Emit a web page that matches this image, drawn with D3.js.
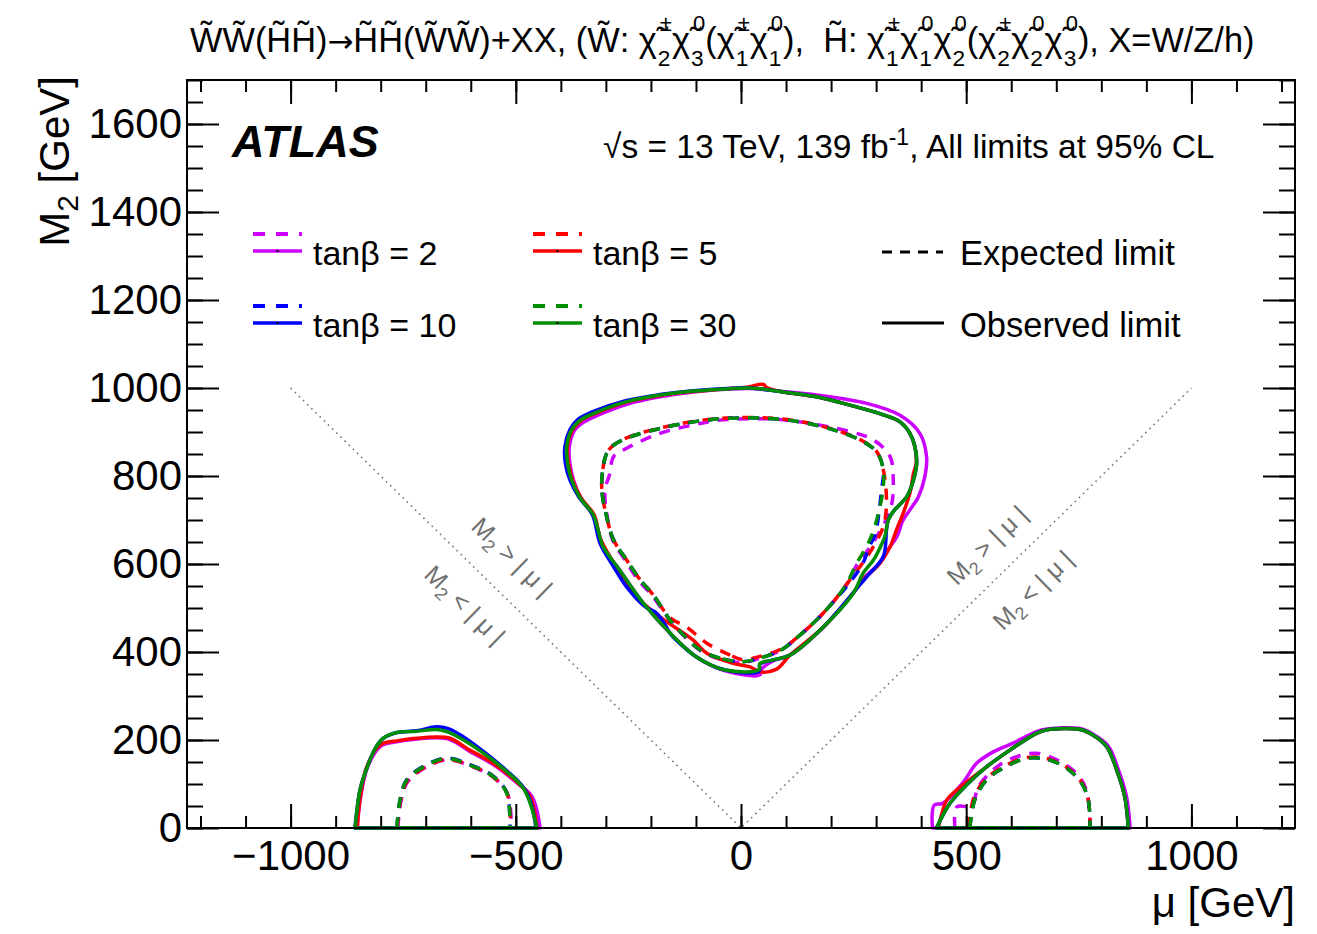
<!DOCTYPE html>
<html lang="en">
<head>
<meta charset="utf-8">
<title>ATLAS wino/higgsino limits</title>
<script src="https://d3js.org/d3.v7.min.js"></script>
<style>
  body { margin: 0; background: #fff; }
  svg text { font-family: "Liberation Sans", Arial, Helvetica, sans-serif; white-space: pre; }
</style>
</head>
<body>
<div id="wrapper"></div>
<script>
// ---- data (mu [GeV], M2 [GeV]) ----
const tanBetaValues = [2, 5, 10, 30]
const muDomain = [-1230, 1230]
const m2Domain = [0, 1700]
const xMajorTicks = [-1000, -500, 0, 500, 1000]
const xMinorTicks = d3.range(-1200, 1201, 100)
const yMajorTicks = [0, 200, 400, 600, 800, 1000, 1200, 1400, 1600]
const yMinorTicks = d3.range(0, 1701, 50)

// central island, observed
const obsCenterTb2 = [[-35,357],[-98,388],[-150,435],[-217,511],[-269,586],[-306,639],[-318,680],[-328,712],[-355,750],[-372,791],[-380,829],[-381,867],[-370,903],[-350,922],[-320,937],[-250,964],[-180,980],[-106,991],[-32,997],[20,999],[94,992],[168,984],[279,965],[353,938],[397,897],[412,844],[408,798],[394,753],[375,723],[360,700],[346,662],[330,638],[305,600],[270,565],[249,533],[183,457],[109,393],[72,380],[45,360],[42,348]]
const obsCenterTb5 = [[20,366],[-17,374],[-76,397],[-106,427],[-180,480],[-232,526],[-261,571],[-291,617],[-313,660],[-326,712],[-355,750],[-374,791],[-383,829],[-385,867],[-374,905],[-355,926],[-326,941],[-254,968],[-180,983],[-106,992],[-32,998],[13,1002],[50,1008],[57,1001],[94,991],[168,980],[242,961],[316,939],[353,923],[375,897],[386,867],[389,829],[383,806],[375,761],[360,715],[346,680],[331,639],[309,602],[271,564],[249,534],[183,457],[109,393],[79,361],[42,355]]
const obsCenterTb10 = [[-35,359],[-98,388],[-158,443],[-165,456],[-187,488],[-213,503],[-254,548],[-283,594],[-313,647],[-330,712],[-360,752],[-380,791],[-390,829],[-391,867],[-380,905],[-362,929],[-332,945],[-256,971],[-180,985],[-106,994],[-32,999],[20,1000],[94,991],[168,980],[242,961],[316,939],[353,923],[375,897],[386,867],[390,829],[383,791],[368,753],[338,719],[327,700],[323,677],[316,617],[279,571],[260,548],[183,457],[109,393],[72,382],[42,372],[40,356]]
const obsCenterTb30 = [[-35,359],[-98,388],[-150,435],[-217,511],[-269,586],[-306,639],[-318,680],[-328,712],[-357,750],[-376,791],[-385,829],[-387,867],[-376,905],[-357,927],[-328,942],[-254,969],[-180,984],[-106,993],[-32,998],[20,1000],[94,991],[168,980],[242,961],[316,939],[353,923],[375,897],[386,867],[390,829],[383,791],[368,753],[338,719],[327,700],[320,665],[310,640],[294,609],[271,579],[249,533],[183,457],[109,393],[72,382],[42,374],[40,360]]

// central island, expected
const expCenterTb2 = [[5,376],[-47,384],[-91,404],[-128,438],[-158,472],[-197,528],[-227,562],[-256,607],[-285,655],[-298,715],[-302,768],[-291,806],[-283,844],[-254,863],[-180,897],[-106,916],[-47,927],[57,930],[131,923],[242,901],[294,882],[331,844],[338,791],[335,738],[322,700],[300,660],[279,628],[257,598],[235,554],[205,514],[168,473],[127,435],[90,405],[42,386]]
const expCenterTb5 = [[5,382],[-24,393],[-76,420],[-121,457],[-158,478],[-195,530],[-224,564],[-254,609],[-283,655],[-300,715],[-309,768],[-307,814],[-298,852],[-283,870],[-246,890],[-180,909],[-106,924],[-32,932],[57,932],[131,924],[205,906],[264,883],[301,856],[316,814],[323,738],[316,685],[298,647],[272,605],[236,556],[205,514],[168,473],[127,435],[90,407],[42,390]]
const expCenterTb10 = [[5,378],[-47,386],[-91,405],[-128,439],[-158,473],[-195,530],[-224,564],[-254,609],[-283,655],[-300,715],[-309,768],[-307,814],[-298,852],[-283,870],[-246,889],[-180,908],[-106,923],[-32,931],[57,931],[131,923],[205,905],[264,882],[301,855],[316,814],[312,768],[306,715],[298,667],[285,640],[271,602],[240,556],[205,514],[168,473],[127,435],[90,405],[42,386]]
const expCenterTb30 = [[5,378],[-47,386],[-91,405],[-128,439],[-158,473],[-195,530],[-224,564],[-254,609],[-283,655],[-300,715],[-309,768],[-307,814],[-298,852],[-283,870],[-246,889],[-180,908],[-106,923],[-32,931],[57,931],[131,923],[205,905],[264,882],[301,855],[316,814],[315,768],[305,715],[292,670],[279,640],[257,602],[235,556],[205,514],[168,473],[127,435],[90,405],[42,386]]

// mu < 0 island (open arc, closed along M2 = 0)
const obsLeftTb2 = [[-852,0],[-846,60],[-829,139],[-799,187],[-764,196],[-720,202],[-676,205],[-646,201],[-602,174],[-550,144],[-498,103],[-464,71],[-446,0]]
const obsLeftTb5 = [[-852,0],[-846,64],[-831,139],[-801,189],[-764,198],[-720,204],[-676,207],[-646,204],[-602,177],[-550,147],[-498,105],[-468,71],[-453,0]]
const obsLeftTb10 = [[-857,0],[-846,86],[-835,124],[-812,181],[-794,204],[-764,217],[-720,221],[-676,230],[-650,226],[-616,207],[-572,174],[-520,130],[-483,92],[-466,56],[-455,0]]
const obsLeftTb30 = [[-857,0],[-846,86],[-835,124],[-812,181],[-794,204],[-764,217],[-720,220],[-676,224],[-653,219],[-616,200],[-572,170],[-520,128],[-483,90],[-468,56],[-453,0]]
const expLeftTb2 = [[-762,0],[-755,61],[-740,105],[-696,140],[-651,155],[-600,141],[-548,114],[-518,77],[-510,0]]
const expLeftTb5 = [[-763,0],[-756,62],[-741,107],[-697,141],[-652,156],[-601,142],[-549,115],[-519,78],[-512,0]]
const expLeftTb10 = [[-764,0],[-757,64],[-742,110],[-698,144],[-653,159],[-602,144],[-550,118],[-520,80],[-513,0]]
const expLeftTb30 = [[-764,0],[-757,64],[-742,109],[-698,143],[-653,158],[-602,143],[-550,117],[-520,79],[-513,0]]

// mu > 0 island
const obsRightTb2 = [[425,0],[429,52],[448,56],[492,102],[523,147],[560,173],[604,193],[656,219],[679,225],[753,226],[782,213],[815,187],[838,132],[856,71],[864,0]]
const obsRightTb5 = [[438,0],[442,18],[457,64],[479,86],[493,98],[545,139],[597,177],[656,215],[679,223],[753,224],[782,211],[812,185],[834,132],[852,71],[860,0]]
const obsRightTb10 = [[434,0],[464,56],[501,98],[545,139],[597,177],[656,215],[679,223],[753,224],[782,211],[812,185],[834,132],[852,71],[860,0]]
const obsRightTb30 = [[434,0],[464,56],[501,98],[545,139],[597,177],[656,215],[679,223],[753,224],[782,211],[812,185],[834,132],[852,71],[860,0]]
const expRightTb2 = [[475,0],[479,48],[512,50],[527,94],[568,139],[612,162],[656,170],[701,155],[745,124],[767,86],[775,0]]
const expRightTb5 = [[506,0],[516,66],[542,110],[580,138],[633,160],[679,158],[723,138],[756,104],[771,64],[775,0]]
const expRightTb10 = [[508,0],[519,64],[545,109],[582,136],[634,158],[679,156],[723,136],[756,102],[771,64],[775,0]]
const expRightTb30 = [[508,0],[519,64],[545,109],[582,136],[634,158],[679,156],[723,136],[756,102],[771,64],[775,0]]

const tbColors = ["#cc00ff", "#ff0000", "#0000ff", "#008f00"]

const series = [
    {obsC: obsCenterTb2, expC: expCenterTb2, obsL: obsLeftTb2, expL: expLeftTb2, obsR: obsRightTb2, expR: expRightTb2},
    {obsC: obsCenterTb5, expC: expCenterTb5, obsL: obsLeftTb5, expL: expLeftTb5, obsR: obsRightTb5, expR: expRightTb5},
    {obsC: obsCenterTb10, expC: expCenterTb10, obsL: obsLeftTb10, expL: expLeftTb10, obsR: obsRightTb10, expR: expRightTb10},
    {obsC: obsCenterTb30, expC: expCenterTb30, obsL: obsLeftTb30, expL: expLeftTb30, obsR: obsRightTb30, expR: expRightTb30},
]

// ---- chart ----
const width = 1317, height = 934
const frame = {left: 187, right: 1295, top: 80, bottom: 828}
const font = "\"Liberation Sans\", Arial, Helvetica, sans-serif"

const svg = d3.select("#wrapper").append("svg")
    .attr("width", width)
    .attr("height", height)
    .style("background", "#fff")

const x = d3.scaleLinear().domain(muDomain).range([frame.left, frame.right])
const y = d3.scaleLinear().domain(m2Domain).range([frame.bottom, frame.top])

// diagonal M2 = |mu| lines
const diag = svg.append("g")
diag.append("path")
    .attr("d", d3.line().x(d => x(d[0])).y(d => y(d[1]))([[-1000, 1000], [0, 0], [1000, 1000]]))
    .attr("fill", "none")
    .attr("stroke", "#777")
    .attr("stroke-width", 1.6)
    .attr("stroke-dasharray", "1.6,4.2")

const angle = Math.atan2(y(0) - y(1000), x(0) - x(-1000)) * 180 / Math.PI
const diagLabels = [
    {mu: -508, m2: 616, op: ">", rot: angle},
    {mu: -613, m2: 507, op: "<", rot: angle},
    {mu: 546, m2: 643, op: ">", rot: -angle},
    {mu: 648, m2: 541, op: "<", rot: -angle},
]
diagLabels.forEach(l => {
    const t = svg.append("text")
        .attr("transform", `translate(${x(l.mu)},${y(l.m2)}) rotate(${l.rot})`)
        .attr("text-anchor", "middle")
        .attr("dy", "0.35em")
        .attr("fill", "#707070")
        .style("font-size", "25px")
    t.append("tspan").text("M")
    t.append("tspan").attr("dy", 6).style("font-size", "18px").text("2")
    t.append("tspan").attr("dy", -6).text(` ${l.op} | μ |`)
})

// contours
const pathOf = d3.line().x(d => x(d[0])).y(d => y(d[1]))
const closedPath = pts => pathOf.curve(d3.curveCatmullRomClosed.alpha(0.5))(pts)
const islandPath = pts => pathOf.curve(d3.curveCatmullRom.alpha(0.5))(pts) + "Z"

const plot = svg.append("g").attr("fill", "none").attr("stroke-width", 3.5).attr("stroke-linejoin", "round")
series.forEach((s, i) => {
    const c = tbColors[i]
    const dashed = "11,9"
    plot.append("path").attr("d", closedPath(s.expC)).attr("stroke", c).attr("stroke-dasharray", dashed)
    plot.append("path").attr("d", islandPath(s.expL)).attr("stroke", c).attr("stroke-dasharray", dashed)
    plot.append("path").attr("d", islandPath(s.expR)).attr("stroke", c).attr("stroke-dasharray", dashed)
    plot.append("path").attr("d", closedPath(s.obsC)).attr("stroke", c)
    plot.append("path").attr("d", islandPath(s.obsL)).attr("stroke", c)
    plot.append("path").attr("d", islandPath(s.obsR)).attr("stroke", c)
})

// axes with inward ticks on all four sides
function styleAxis(g) {
    g.select(".domain").remove()
    g.selectAll("line").attr("stroke", "#000").attr("stroke-width", 2)
    g.selectAll("text").attr("fill", "#000").style("font-size", "42px").style("font-family", font)
}
const noLabel = () => ""
const intLabel = d3.format("d")
svg.append("g").attr("transform", `translate(0,${frame.bottom})`)
    .call(d3.axisBottom(x).tickValues(xMinorTicks).tickSize(-12).tickFormat(noLabel)).call(styleAxis)
svg.append("g").attr("transform", `translate(0,${frame.bottom})`)
    .call(d3.axisBottom(x).tickValues(xMajorTicks).tickSize(-24).tickPadding(12).tickFormat(intLabel)).call(styleAxis)
svg.append("g").attr("transform", `translate(0,${frame.top})`)
    .call(d3.axisTop(x).tickValues(xMinorTicks).tickSize(-12).tickFormat(noLabel)).call(styleAxis)
svg.append("g").attr("transform", `translate(0,${frame.top})`)
    .call(d3.axisTop(x).tickValues(xMajorTicks).tickSize(-24).tickFormat(noLabel)).call(styleAxis)
svg.append("g").attr("transform", `translate(${frame.left},0)`)
    .call(d3.axisLeft(y).tickValues(yMinorTicks).tickSize(-16).tickFormat(noLabel)).call(styleAxis)
svg.append("g").attr("transform", `translate(${frame.left},0)`)
    .call(d3.axisLeft(y).tickValues(yMajorTicks).tickSize(-32).tickPadding(5).tickFormat(intLabel)).call(styleAxis)
svg.append("g").attr("transform", `translate(${frame.right},0)`)
    .call(d3.axisRight(y).tickValues(yMinorTicks).tickSize(-16).tickFormat(noLabel)).call(styleAxis)
svg.append("g").attr("transform", `translate(${frame.right},0)`)
    .call(d3.axisRight(y).tickValues(yMajorTicks).tickSize(-32).tickFormat(noLabel)).call(styleAxis)

svg.append("rect")
    .attr("x", frame.left).attr("y", frame.top)
    .attr("width", frame.right - frame.left).attr("height", frame.bottom - frame.top)
    .attr("fill", "none").attr("stroke", "#000").attr("stroke-width", 2)

// axis titles
svg.append("text")
    .attr("x", frame.right).attr("y", 917)
    .attr("text-anchor", "end")
    .style("font-size", "42px")
    .text("μ [GeV]")

const yTitle = svg.append("text")
    .attr("transform", `translate(69,${frame.top - 4}) rotate(-90)`)
    .attr("text-anchor", "end")
    .style("font-size", "42px")
yTitle.append("tspan").text("M")
yTitle.append("tspan").attr("dy", 9).style("font-size", "30px").text("2")
yTitle.append("tspan").attr("dy", -9).text(" [GeV]")

// ATLAS label and energy text
svg.append("text")
    .attr("x", 232).attr("y", 157)
    .style("font-size", "45px").style("font-weight", "bold").style("font-style", "italic")
    .text("ATLAS")

const lumi = svg.append("text").attr("x", 603).attr("y", 158).style("font-size", "33.5px")
lumi.append("tspan").text("√s = 13 TeV, 139 fb")
lumi.append("tspan").attr("dy", -13).style("font-size", "23px").text("-1")
lumi.append("tspan").attr("dy", 13).text(", All limits at 95% CL")

// legend
const legend = svg.append("g")
const legendCols = [253, 533]
const legendRows = [0, 72]
tanBetaValues.forEach((tb, i) => {
    const lx = legendCols[i % 2]
    const ly = legendRows[Math.floor(i / 2)]
    legend.append("line").attr("x1", lx).attr("x2", lx + 49).attr("y1", 234 + ly).attr("y2", 234 + ly)
        .attr("stroke", tbColors[i]).attr("stroke-width", 4).attr("stroke-dasharray", "12,11")
    legend.append("line").attr("x1", lx).attr("x2", lx + 49).attr("y1", 251 + ly).attr("y2", 251 + ly)
        .attr("stroke", tbColors[i]).attr("stroke-width", 3.5)
    legend.append("rect").attr("x", lx + 23.5).attr("y", 250 + ly).attr("width", 2).attr("height", 2).attr("fill", "#000")
    legend.append("text").attr("x", lx + 60).attr("y", 265 + ly).style("font-size", "34px").text(`tanβ = ${tb}`)
})
legend.append("line").attr("x1", 882).attr("x2", 943).attr("y1", 252).attr("y2", 252)
    .attr("stroke", "#000").attr("stroke-width", 3).attr("stroke-dasharray", "10,8")
legend.append("text").attr("x", 960).attr("y", 265).style("font-size", "34.5px").text("Expected limit")
legend.append("line").attr("x1", 882).attr("x2", 944).attr("y1", 323).attr("y2", 323)
    .attr("stroke", "#000").attr("stroke-width", 3)
legend.append("text").attr("x", 960).attr("y", 337).style("font-size", "34.5px").text("Observed limit")

// title: one text element; tildes are combining marks, super/subscripts stacked tspans
const TIL = "\u0303"
const titleParts = [
    {t: "W" + TIL}, {t: "W" + TIL}, {t: "("}, {t: "H" + TIL}, {t: "H" + TIL}, {t: ")"}, {t: "→", arrow: 1},
    {t: "H" + TIL}, {t: "H" + TIL}, {t: "("}, {t: "W" + TIL}, {t: "W" + TIL}, {t: ")+XX, ("},
    {t: "W" + TIL}, {t: ": "},
    {t: "χ" + TIL, sup: "±", sub: "2"}, {t: "χ" + TIL, sup: "0", sub: "3"}, {t: "("},
    {t: "χ" + TIL, sup: "±", sub: "1"}, {t: "χ" + TIL, sup: "0", sub: "1"}, {t: "),  "},
    {t: "H" + TIL}, {t: ": "},
    {t: "χ" + TIL, sup: "±", sub: "1"}, {t: "χ" + TIL, sup: "0", sub: "1"}, {t: "χ" + TIL, sup: "0", sub: "2"}, {t: "("},
    {t: "χ" + TIL, sup: "±", sub: "2"}, {t: "χ" + TIL, sup: "0", sub: "2"}, {t: "χ" + TIL, sup: "0", sub: "3"},
    {t: "), X=W/Z/h)"},
]
function richText(txt, x0, y0, parts, size) {
    let cx = x0
    parts.forEach(p => {
        const base = txt.append("tspan").attr("x", cx).attr("y", y0).style("font-size", size + "px").text(p.t)
        if (p.arrow) base.style("font-family", "'DejaVu Sans', sans-serif").style("font-size", (size * 0.9) + "px")
        const w = base.node().getComputedTextLength()
        let extra = 0
        if (p.sup) {
            const s = txt.append("tspan").attr("x", cx + w + 3).attr("y", y0 - size * 0.62)
                .style("font-size", (size * 0.64) + "px").text(p.sup)
            extra = Math.max(extra, s.node().getComputedTextLength() + 3)
        }
        if (p.sub) {
            const s = txt.append("tspan").attr("x", cx + w + 1).attr("y", y0 + size * 0.42)
                .style("font-size", (size * 0.66) + "px").text(p.sub)
            extra = Math.max(extra, s.node().getComputedTextLength() + 1)
        }
        cx += w + extra
    })
    return cx - x0
}
// lay the title out once, then refit its size to the span it has in the figure
const title = svg.append("text")
const titleSpan = 1068
const w0 = richText(title, 190, 52, titleParts, 31)
title.selectAll("*").remove()
richText(title, 190, 52, titleParts, 31 * titleSpan / w0)
</script>
</body>
</html>
